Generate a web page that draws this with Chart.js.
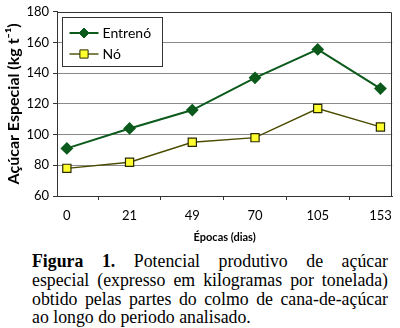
<!DOCTYPE html>
<html>
<head>
<meta charset="utf-8">
<script src="https://cdn.jsdelivr.net/npm/chart.js@4/dist/chart.umd.min.js"></script>
<style>
  html, body { margin: 0; padding: 0; background: #fff; }
  body { width: 400px; height: 328px; position: relative; overflow: hidden; }
  #wrap { position: absolute; left: 0; top: 0; width: 400px; height: 248px; }
  #cap { position: absolute; left: 32px; top: 252px; width: 356px;
         font-family: "Liberation Serif", "Times New Roman", serif; font-size: 17.8px;
         line-height: 18.8px; color: #000; }
  #cap div { text-align: justify; text-align-last: justify; white-space: nowrap; }
  #cap div.last { text-align-last: left; }
</style>
</head>
<body>
<div id="wrap"><canvas id="c" width="400" height="248"></canvas></div>
<div id="cap">
  <div><b>Figura 1.</b> Potencial produtivo de açúcar</div>
  <div>especial (expresso em kilogramas por tonelada)</div>
  <div>obtido pelas partes do colmo de cana-de-açúcar</div>
  <div class="last">ao longo do periodo analisado.</div>
</div>
<script>
const categories = ["0", "21", "49", "70", "105", "153"];
const entrenoValues = [91, 104, 116, 137, 155.5, 130];
const noValues = [78, 82, 95, 98, 117, 105];
const seriesNames = ["Entrenó", "Nó"];
const xTitle = "Épocas (dias)";
const yTitle = "Açúcar Especial (kg t⁻¹)";

const GREEN = '#0b5a1c';
const YELLOW = '#ffff30';
const FONT = 'Lato';

const frame = {
  id: 'frame',
  afterDraw(chart) {
    const {ctx, chartArea: a} = chart;
    ctx.save();
    ctx.strokeStyle = '#333';
    ctx.lineWidth = 1;
    ctx.beginPath();
    ctx.moveTo(Math.round(a.left) + 0.5, Math.round(a.top) + 0.5);
    ctx.lineTo(Math.round(a.right) - 0.5, Math.round(a.top) + 0.5);
    ctx.lineTo(Math.round(a.right) - 0.5, Math.round(a.bottom) + 0.5);
    ctx.stroke();
    ctx.restore();
  }
};

const boxLegend = {
  id: 'boxLegend',
  afterDatasetsDraw(chart) {
    const {ctx, chartArea: a} = chart;
    const x = Math.round(a.left) + 5.5, y = Math.round(a.top) + 5.5, w = 100, h = 49;
    ctx.save();
    ctx.fillStyle = '#fff';
    ctx.fillRect(x, y, w, h);
    ctx.strokeStyle = '#333';
    ctx.lineWidth = 1;
    ctx.strokeRect(x, y, w, h);
    chart.data.datasets.forEach((ds, i) => {
      const ly = y + 15.5 + i * 21;
      ctx.strokeStyle = ds.borderColor;
      ctx.lineWidth = ds.borderWidth;
      ctx.beginPath();
      ctx.moveTo(x + 7, ly);
      ctx.lineTo(x + 36, ly);
      ctx.stroke();
      ctx.fillStyle = ds.pointBackgroundColor;
      ctx.strokeStyle = ds.pointBorderColor;
      ctx.lineWidth = 1;
      Chart.helpers.drawPoint(ctx, {
        pointStyle: ds.pointStyle, radius: ds.pointRadius, rotation: 0,
        borderWidth: 1
      }, x + 21.5, ly);
      ctx.fillStyle = '#000';
      ctx.font = '14px ' + FONT;
      ctx.textBaseline = 'middle';
      ctx.textAlign = 'left';
      ctx.fillText(ds.label, x + 40, ly);
    });
    ctx.restore();
  }
};

new Chart(document.getElementById('c'), {
  type: 'line',
  data: {
    datasets: [
      {
        label: seriesNames[0],
        data: entrenoValues.map((v, i) => ({x: i, y: v})),
        borderColor: GREEN, borderWidth: 2,
        pointStyle: 'rectRot', pointRadius: 5,
        pointBackgroundColor: GREEN, pointBorderColor: GREEN,
        tension: 0
      },
      {
        label: seriesNames[1],
        data: noValues.map((v, i) => ({x: i, y: v})),
        borderColor: '#4a4a00', borderWidth: 1.4,
        pointStyle: 'rect', pointRadius: 5.8,
        pointBackgroundColor: YELLOW, pointBorderColor: '#2a2a00', pointBorderWidth: 1.2,
        tension: 0
      }
    ]
  },
  options: {
    responsive: false,
    animation: false,
    events: [],
    layout: { padding: { top: 5, right: 2, left: 0, bottom: 2 } },
    plugins: { legend: { display: false }, tooltip: { enabled: false } },
    scales: {
      x: {
        type: 'linear',
        min: -0.157, max: 5.188,
        afterBuildTicks: s => { s.ticks = categories.map((c, i) => ({value: i})); },
        afterFit: s => { s.height = 50; },
        ticks: {
          callback: (v) => categories[v] ?? '',
          color: '#000', font: { family: FONT, size: 13 }, padding: 8,
          maxRotation: 0, autoSkip: false
        },
        grid: { display: true, drawOnChartArea: false, offset: true, tickLength: 4, tickColor: '#333' },
        border: { display: true, color: '#333', width: 1 },
        title: { display: true, text: xTitle, color: '#000',
                 font: { family: FONT, size: 11, weight: 'bold' }, padding: { top: 0, bottom: 2 } }
      },
      y: {
        min: 60, max: 180,
        afterFit: s => { s.width = 57; },
        ticks: {
          stepSize: 10,
          callback: (v) => (v % 20 === 0 ? String(v) : ''),
          color: '#000', font: { family: FONT, size: 13 }, padding: 4
        },
        grid: {
          color: (c) => (c.tick && c.tick.value % 20 === 0 && c.tick.value !== 60 && c.tick.value !== 180) ? '#8a8a8a' : 'rgba(0,0,0,0)',
          borderDash: [2, 2],
          lineWidth: 1,
          tickLength: 4, tickColor: '#333', tickBorderDash: []
        },
        border: { display: true, color: '#333', width: 1 },
        title: { display: true, text: yTitle, color: '#000',
                 font: { family: FONT, size: 16, weight: 'bold' }, padding: { top: 4, bottom: 0 } }
      }
    }
  },
  plugins: [frame, boxLegend]
});
</script>
</body>
</html>
